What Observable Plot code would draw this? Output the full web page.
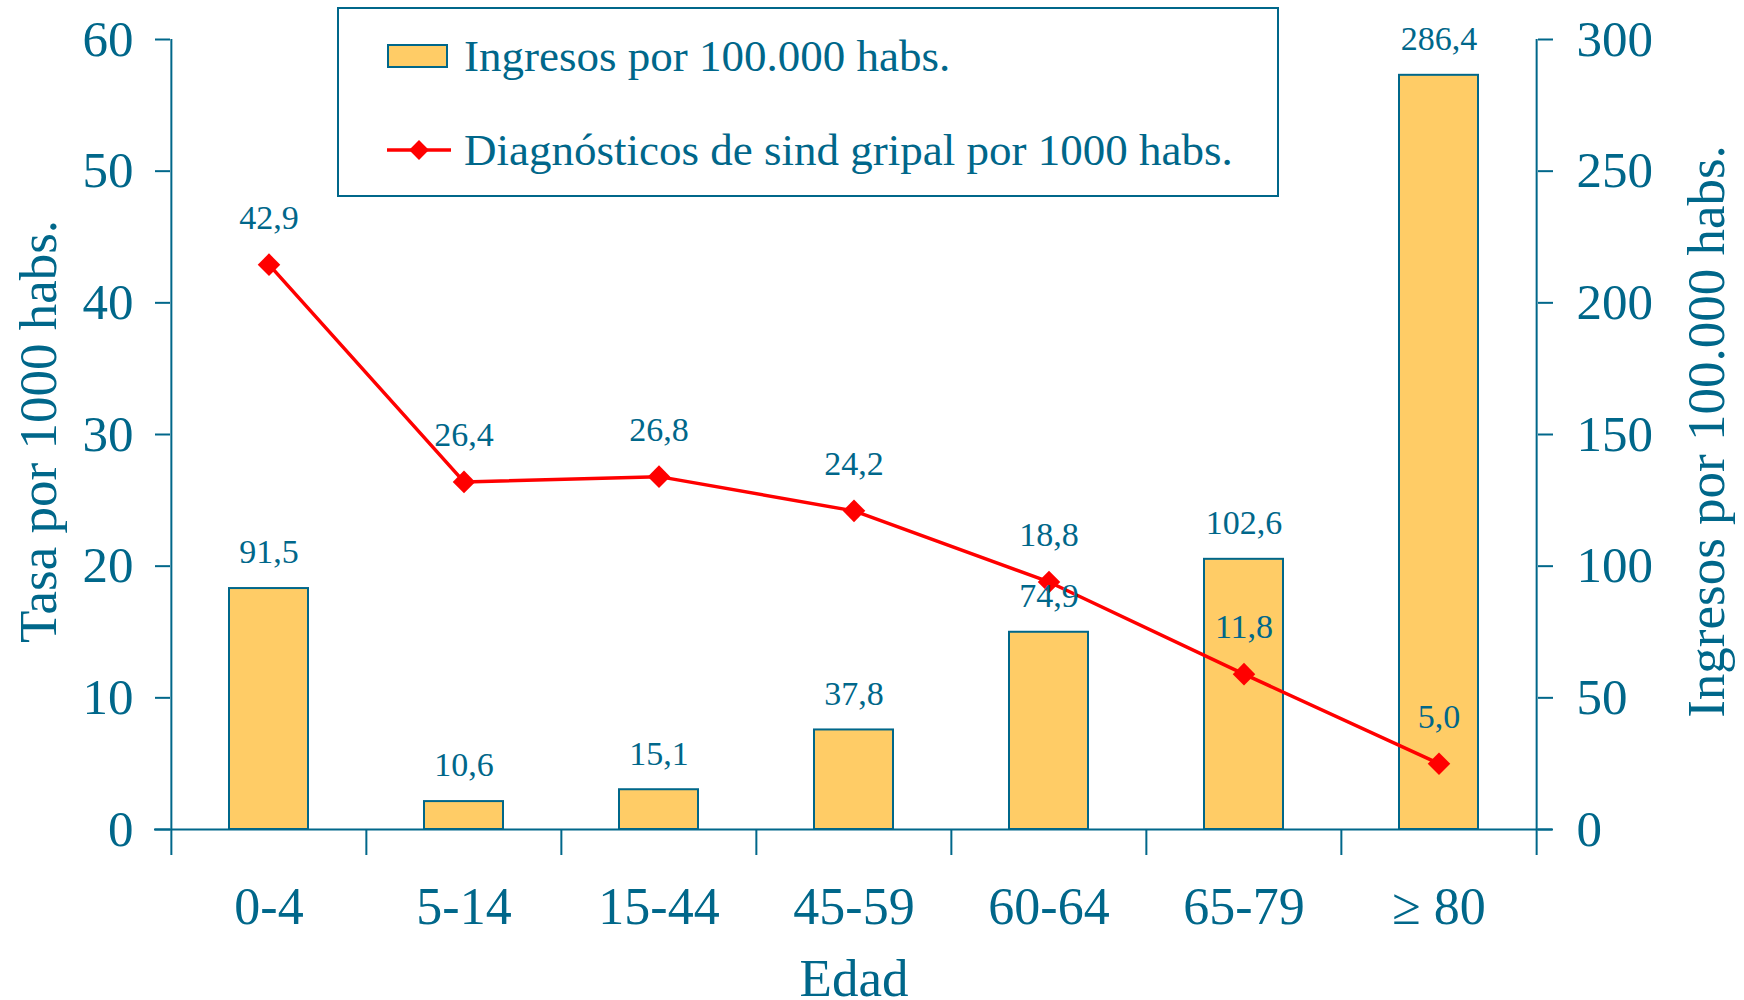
<!DOCTYPE html>
<html>
<head>
<meta charset="utf-8">
<script src="https://cdn.jsdelivr.net/npm/d3@7"></script>
<script src="https://cdn.jsdelivr.net/npm/@observablehq/plot@0.6"></script>
<style>
  html, body { margin: 0; padding: 0; background: #fff; }
  #wrap { position: relative; width: 1744px; height: 1000px; font-family: "Liberation Serif", "Times New Roman", serif; color: #00678A; }
  #legend { position: absolute; left: 337px; top: 7px; width: 938px; height: 186px; border: 2px solid #00678A; background: #fff; }
  .lt { position: absolute; left: 125px; height: 50px; line-height: 50px; font-size: 45px; white-space: nowrap; }
</style>
</head>
<body>
<div id="wrap"></div>
<script>
const categories = ["0-4", "5-14", "15-44", "45-59", "60-64", "65-79", "\u2265 80"];
const ingresos = [91.5, 10.6, 15.1, 37.8, 74.9, 102.6, 286.4];        // por 100.000 habs. (eje derecho)
const diagnosticos = [42.9, 26.4, 26.8, 24.2, 18.8, 11.8, 5.0];        // por 1000 habs. (eje izquierdo)
const leftTicks = [0, 10, 20, 30, 40, 50, 60];
const rightTicks = [0, 50, 100, 150, 200, 250, 300];
const seriesNames = ["Ingresos por 100.000 habs.", "Diagnósticos de sind gripal por 1000 habs."];
const leftTitle = "Tasa por 1000 habs.";
const rightTitle = "Ingresos por 100.000 habs.";
const xTitle = "Edad";

const TEAL = "#00678A", YEL = "#FFCC66", RED = "#FF0000";
const W = 1744, H = 1000, mL = 170, mR = 207, mT = 39, mB = 171;
const ratio = rightTicks[rightTicks.length - 1] / leftTicks[leftTicks.length - 1];
const step = (W - mL - mR) / categories.length;
const fmt = v => v.toFixed(1).replace(".", ",");
const data = categories.map((c, i) => ({cat: c, ing: ingresos[i], diag: diagnosticos[i]}));

const chart = Plot.plot({
  width: W, height: H, marginLeft: mL, marginRight: mR, marginTop: mT, marginBottom: mB,
  style: {fontFamily: '"Liberation Serif", "Times New Roman", serif', color: TEAL, background: "white", overflow: "visible"},
  x: {type: "band", domain: categories, padding: 0, axis: null},
  y: {domain: [0, 60], axis: null},
  marks: [
    Plot.barY(data, {x: "cat", y: d => d.ing / ratio, fill: YEL, stroke: TEAL, strokeWidth: 2, insetLeft: 58, insetRight: 58}),
    Plot.ruleY([0], {stroke: TEAL, strokeWidth: 2, insetLeft: -16, insetRight: -15}),
    Plot.ruleX([categories[0]], {x: d => d, y1: 0, y2: 60, dx: -step / 2, stroke: TEAL, strokeWidth: 2}),
    Plot.ruleX([categories[categories.length - 1]], {x: d => d, y1: 0, y2: 60, dx: step / 2, stroke: TEAL, strokeWidth: 2}),
    Plot.axisX(categories, {tickSize: 26, tickFormat: () => "", dx: -step / 2, stroke: TEAL, strokeWidth: 2, label: null}),
    Plot.axisX([categories[categories.length - 1]], {tickSize: 26, tickFormat: () => "", dx: step / 2, stroke: TEAL, strokeWidth: 2, label: null}),
    Plot.axisX(categories, {tickSize: 0, tickPadding: 58, fontSize: 52, fill: TEAL, label: null}),
    Plot.axisY(leftTicks, {anchor: "left", tickSize: 15, tickPadding: 22, fontSize: 51, stroke: TEAL, strokeWidth: 2, fill: TEAL, label: null}),
    Plot.axisY(rightTicks.map(v => v / ratio), {anchor: "right", tickSize: 15, tickPadding: 24, fontSize: 51, stroke: TEAL, strokeWidth: 2, fill: TEAL, tickFormat: d => String(Math.round(d * ratio)), label: null}),
    Plot.line(data, {x: "cat", y: "diag", stroke: RED, strokeWidth: 3.5}),
    Plot.dot(data, {x: "cat", y: "diag", symbol: "square", rotate: 45, r: 9, fill: RED, stroke: null}),
    Plot.text(data, {x: "cat", y: "diag", text: d => fmt(d.diag), dy: -47, fontSize: 34, fill: TEAL}),
    Plot.text(data, {x: "cat", y: d => d.ing / ratio, text: d => fmt(d.ing), dy: -36, fontSize: 34, fill: TEAL}),
    Plot.text([leftTitle], {frameAnchor: "left", text: d => d, rotate: -90, textAnchor: "middle", lineAnchor: "middle", dx: -131, dy: -3, fontSize: 53, fill: TEAL}),
    Plot.text([rightTitle], {frameAnchor: "right", text: d => d, rotate: -90, textAnchor: "middle", lineAnchor: "middle", dx: 170, dy: -3, fontSize: 53, fill: TEAL}),
    Plot.text([xTitle], {frameAnchor: "bottom", text: d => d, lineAnchor: "middle", dy: 150, fontSize: 53, fill: TEAL})
  ]
});

const wrap = document.getElementById("wrap");
wrap.appendChild(chart);

// Legend (overlaid on the chart)
const lg = document.createElement("div");
lg.id = "legend";
lg.innerHTML = `
  <div style="position:absolute;left:48px;top:35px;width:57px;height:20px;background:${YEL};border:2px solid ${TEAL};"></div>
  <div class="lt" style="top:22px;">${seriesNames[0]}</div>
  <svg style="position:absolute;left:47px;top:126px;" width="66" height="30">
    <line x1="1" y1="15" x2="65" y2="15" stroke="${RED}" stroke-width="3.5"/>
    <rect x="26" y="8" width="14" height="14" fill="${RED}" transform="rotate(45 33 15)"/>
  </svg>
  <div class="lt" style="top:116px;">${seriesNames[1]}</div>`;
wrap.appendChild(lg);
</script>
</body>
</html>
